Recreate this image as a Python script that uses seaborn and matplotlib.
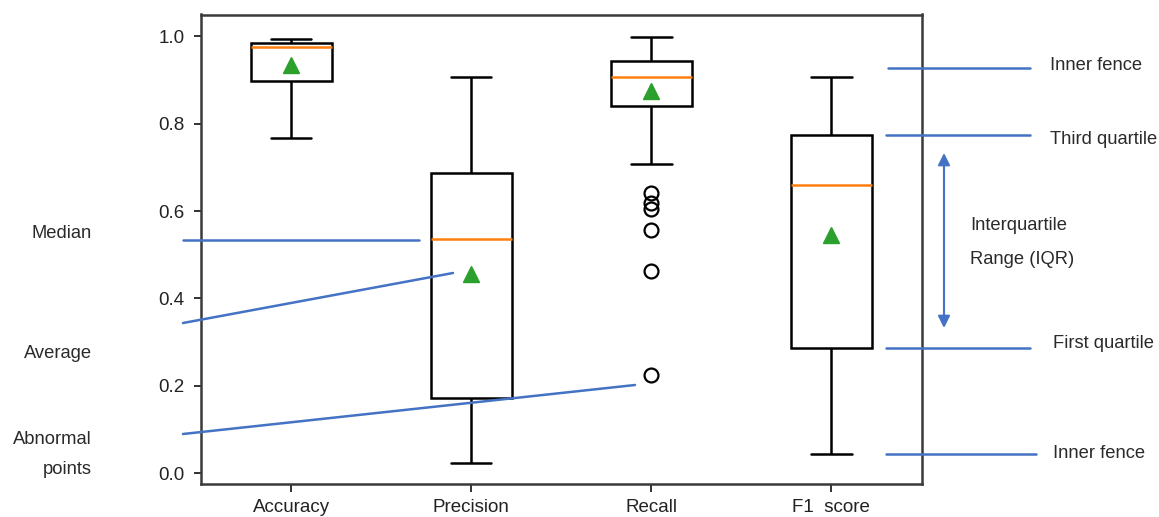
import pandas as pd
import matplotlib
matplotlib.use("Agg")
import matplotlib.pyplot as plt
import seaborn as sns
from matplotlib.lines import Line2D
from matplotlib.patches import FancyArrowPatch

# metric names on the x axis
categories = ["Accuracy", "Precision", "Recall", "F1  score"]

# scores (sorted)
accuracy = [0.768, 0.856, 0.897, 0.960, 0.975, 0.980, 0.985, 0.990, 0.995]
precision = [0.024, 0.100, 0.172, 0.400, 0.536, 0.550, 0.688, 0.728, 0.906]
recall = [0.225, 0.463, 0.556, 0.605, 0.618, 0.641,
          0.708,
          0.78, 0.80, 0.81, 0.82, 0.83, 0.835, 0.84, 0.84,
          0.841,
          0.87, 0.87, 0.88, 0.88, 0.88, 0.89, 0.89, 0.89, 0.90, 0.90, 0.90, 0.90, 0.905, 0.905,
          0.906,
          0.91, 0.92, 0.92, 0.93, 0.93, 0.93, 0.935, 0.935, 0.94, 0.94, 0.94, 0.94, 0.943, 0.943,
          0.944,
          0.96, 0.97, 0.97, 0.98, 0.98, 0.99, 0.99, 0.99, 0.99, 0.995, 0.995, 0.995, 0.998, 0.998,
          0.999]
f1_score = [0.044, 0.200, 0.286, 0.550, 0.660, 0.700, 0.773, 0.786, 0.906]

yticks = [0.0, 0.2, 0.4, 0.6, 0.8, 1.0]

series = [accuracy, precision, recall, f1_score]
df = pd.DataFrame({
    "metric": [c for c, s in zip(categories, series) for _ in s],
    "value": [v for s in series for v in s],
})

sns.set_style("ticks")
plt.rcParams["font.family"] = ["Liberation Sans", "DejaVu Sans"]

W, H = 1159, 517
fig = plt.figure(figsize=(W / 100, H / 100), dpi=100)
ax = fig.add_axes([201 / W, 1 - 484 / H, (921.5 - 201) / W, (484 - 14.5) / H])

sns.boxplot(data=df, x="metric", y="value", order=categories, ax=ax,
            width=0.45, color="white", linecolor="black", linewidth=1.8,
            showmeans=True,
            meanprops=dict(marker="^", markerfacecolor="#2ca02c",
                           markeredgecolor="#2ca02c", markersize=11),
            medianprops=dict(color="#ff7f0e", linewidth=1.8),
            flierprops=dict(marker="o", markersize=10, markerfacecolor="none",
                            markeredgecolor="black", markeredgewidth=1.6))

ax.set_xlim(-0.5, 3.5)
ax.set_ylim(-0.025, 1.05)
ax.set_yticks(yticks)
ax.set(xlabel="", ylabel="")
for sp in ax.spines.values():
    sp.set_color("#3a3a3a")
    sp.set_linewidth(1.8)
ax.tick_params(axis="both", labelsize=13.5, colors="#222222", width=1.3)
ax.tick_params(axis="x", length=6, pad=5)
ax.tick_params(axis="y", length=5, pad=7)

# annotation lines and labels (figure pixel positions)
BLUE = "#4472c4"
TXT = "#2a2a2a"


def fline(x0, y0, x1, y1):
    fig.add_artist(Line2D([x0 / W, x1 / W], [1 - y0 / H, 1 - y1 / H],
                          transform=fig.transFigure, color=BLUE, lw=1.8))


def ftext(x, y, s, ha):
    fig.text(x / W, 1 - y / H, s, ha=ha, va="center", fontsize=13.2,
             color=TXT, linespacing=2.0)


fline(183, 239.5, 419, 239.5)
fline(183, 323, 453, 273)
fline(183, 434, 635, 385)
ftext(92, 234, "Median", "right")
ftext(92, 353, "Average", "right")
ftext(92, 454, "Abnormal\npoints", "right")

fline(888, 68, 1030, 68)
fline(886, 135, 1030, 135)
fline(886, 347.5, 1030, 347.5)
fline(886, 454, 1036, 454)
ftext(1050, 65, "Inner fence", "left")
ftext(1050, 139, "Third quartile", "left")
ftext(1053, 343, "First quartile", "left")
ftext(1053, 453, "Inner fence", "left")
ftext(970, 225, "Interquartile", "left")
ftext(970, 259, "Range (IQR)", "left")

x0, y0 = 944 / W, 1 - 153 / H
x1, y1 = 944 / W, 1 - 328 / H
fig.add_artist(FancyArrowPatch((x0, y0), (x1, y1), transform=fig.transFigure,
                               arrowstyle="<|-|>", mutation_scale=18,
                               color=BLUE, lw=1.5, shrinkA=0, shrinkB=0))

fig.savefig("out.png", dpi=100)
